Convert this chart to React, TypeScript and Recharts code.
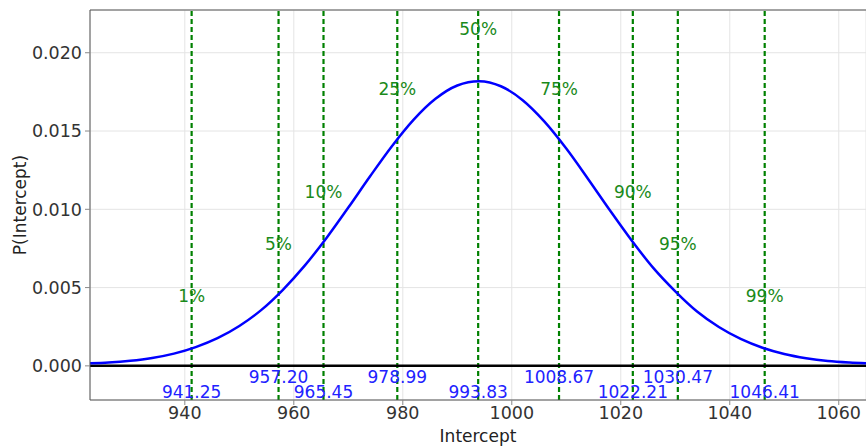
import {
  ComposedChart,
  Line,
  Scatter,
  XAxis,
  YAxis,
  CartesianGrid,
  ReferenceLine,
  Label,
} from 'recharts'

// curve (Intercept vs density)
const xs = [
  922.6, 926, 930, 934, 938, 942, 946, 950, 954, 958, 962, 966, 970, 974, 978, 982, 986, 990,
  994, 998, 1002, 1006, 1010, 1014, 1018, 1022, 1026, 1030, 1034, 1038, 1042, 1046, 1050, 1054,
  1058, 1062, 1065,
]
const density = [
  0.00016, 0.00021, 0.00032, 0.0005, 0.00078, 0.0012, 0.00177, 0.00255, 0.00356, 0.00486,
  0.0064, 0.00817, 0.01011, 0.01211, 0.01403, 0.01573, 0.01706, 0.01791, 0.01818, 0.01786,
  0.01697, 0.0156, 0.01388, 0.01194, 0.00994, 0.00801, 0.00624, 0.00476, 0.00347, 0.00248,
  0.00172, 0.00116, 0.00076, 0.00049, 0.00031, 0.00021, 0.00016,
]

const pctNames = ['1%', '5%', '10%', '25%', '50%', '75%', '90%', '95%', '99%']
const pctValues = [941.25, 957.2, 965.45, 978.99, 993.83, 1008.67, 1022.21, 1030.47, 1046.41]
const pctLabelY = [0.00444, 0.00779, 0.01109, 0.01771, 0.02151, 0.01771, 0.01109, 0.00779, 0.00444]
const valueLabelY = [-0.00168, -0.000685, -0.00168, -0.000685, -0.00168, -0.000685, -0.00168, -0.000685, -0.00168]

const xTicks = [940, 960, 980, 1000, 1020, 1040, 1060]
const yTicks = [0, 0.005, 0.01, 0.015, 0.02]
const xDomain = [922.6, 1065]
const yDomain = [-0.00218, 0.02273]

const curve = xs.map((x, i) => ({ x, p: density[i] }))
const pctLabels = pctValues.map((x, i) => ({ x, y: pctLabelY[i], text: pctNames[i] }))
const valueLabels = pctValues.map((x, i) => ({ x, y: valueLabelY[i], text: x.toFixed(2) }))

const FONT = 'DejaVu Sans, sans-serif'

const textShape = (color: string) => (props: any) => (
  <text
    x={props.cx}
    y={props.cy}
    fill={color}
    fontSize={17}
    fontFamily={FONT}
    textAnchor="middle"
    dominantBaseline="central"
  >
    {props.payload.text}
  </text>
)

export default function App() {
  return (
    <div style={{ position: 'absolute', left: 0, top: 0, background: '#fff' }}>
      <ComposedChart width={866} height={448} margin={{ top: 10, right: 0, left: 0, bottom: 0 }}>
        <CartesianGrid stroke="#e4e4e4" />
        <XAxis
          dataKey="x"
          type="number"
          domain={xDomain}
          ticks={xTicks}
          allowDataOverflow
          height={48}
          tick={{ fontSize: 17.5, fill: '#333', fontFamily: FONT }}
          tickSize={5}
          tickMargin={2}
          tickLine={{ stroke: '#888' }}
          axisLine={{ stroke: '#555' }}
        >
          <Label
            value="Intercept"
            position="insideBottom"
            offset={6}
            style={{ fontSize: 17, fill: '#222', fontFamily: FONT }}
          />
        </XAxis>
        <YAxis
          type="number"
          domain={yDomain}
          ticks={yTicks}
          allowDataOverflow
          width={90}
          tickFormatter={(v: number) => v.toFixed(3)}
          tick={{ fontSize: 17.5, fill: '#333', fontFamily: FONT }}
          tickSize={5}
          tickMargin={3}
          tickLine={{ stroke: '#888' }}
          axisLine={{ stroke: '#555' }}
        >
          <Label
            value="P(Intercept)"
            angle={-90}
            position="insideLeft"
            offset={20}
            style={{ fontSize: 17, fill: '#222', fontFamily: FONT, textAnchor: 'middle' }}
          />
        </YAxis>
        <ReferenceLine y={yDomain[1]} stroke="#555" />
        {pctValues.map((v) => (
          <ReferenceLine key={v} x={v} stroke="#008000" strokeWidth={2.2} strokeDasharray="5 3" />
        ))}
        <ReferenceLine y={0} stroke="#000" strokeWidth={2.5} />
        <Line
          data={curve}
          dataKey="p"
          type="monotone"
          stroke="#0000ff"
          strokeWidth={2.5}
          dot={false}
          isAnimationActive={false}
        />
        <Scatter data={pctLabels} dataKey="y" shape={textShape('#1a8a1a')} isAnimationActive={false} />
        <Scatter data={valueLabels} dataKey="y" shape={textShape('#2222ff')} isAnimationActive={false} />
      </ComposedChart>
    </div>
  )
}
